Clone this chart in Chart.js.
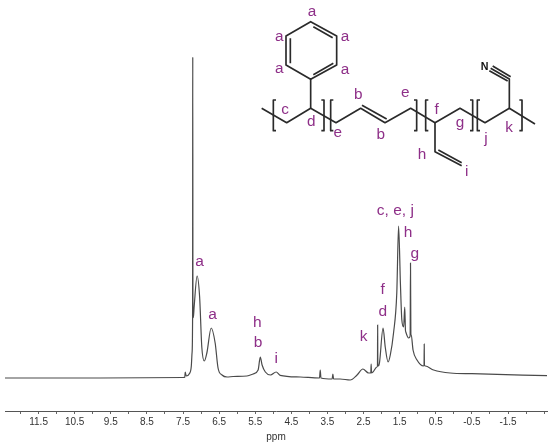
<!DOCTYPE html>
<html lang="en">
<head>
    <meta charset="UTF-8">
    <title>1H NMR spectrum</title>
    <script src="https://cdn.jsdelivr.net/npm/chart.js"></script>
    <style>
        html, body { margin: 0; padding: 0; background: #fff; }
        #wrap { position: relative; width: 550px; height: 444px; overflow: hidden; }
        #myChart { position: absolute; left: 0; top: 0; }
        #structure { position: absolute; left: 260px; top: 0; }
        #structure .bond { fill: none; stroke: #2a2a2a; stroke-width: 5; stroke-linejoin: round; }
        #structure text { font-family: "Liberation Sans", Arial, sans-serif; font-size: 46px; fill: #8e2f88; text-anchor: middle; dominant-baseline: central; }
        #structure text.atom { fill: #111; font-weight: bold; font-size: 32px; }
    </style>
</head>
<body>
<div id="wrap">
    <canvas id="myChart" width="550" height="444"></canvas>
    <svg id="structure" width="290" height="200" viewBox="0 0 870 600">
        <polygon class="bond" points="152,65 230,108 230,195 152,238 78,195 78,108"/>
        <path class="bond" d="M160,80 L218,113 M91,115 L91,190 M160,224 L220,190"/>
        <path class="bond" d="M152,238 L152,325"/>
        <polyline class="bond" points="5,325 80,368 152,325 228,368 302,325 375,368 452,325 525,368 600,325 675,368 748,325 825,372"/>
        <path class="bond" d="M306,316 L380,357"/>
        <path class="bond" d="M525,368 L525,455 L605,497 M535,450 L605,488"/>
        <path class="bond" d="M748,325 L748,237 L692,205 M752,230 L698,198 M743,243 L688,212"/>
        <path class="bond" d="M48,300 L40,300 L40,392 L48,392 M184,300 L192,300 L192,392 L184,392"/>
        <path class="bond" d="M220,300 L212,300 L212,392 L220,392 M462,300 L470,300 L470,392 L462,392"/>
        <path class="bond" d="M505,300 L497,300 L497,392 L505,392 M630,300 L638,300 L638,392 L630,392"/>
        <path class="bond" d="M660,300 L652,300 L652,392 L660,392 M778,300 L786,300 L786,392 L778,392"/>
        <text class="atom" x="674" y="197">N</text>
        <text x="156" y="30">a</text>
        <text x="58" y="106">a</text>
        <text x="255" y="106">a</text>
        <text x="58" y="201">a</text>
        <text x="255" y="204">a</text>
        <text x="75" y="326">c</text>
        <text x="154" y="360">d</text>
        <text x="233" y="395">e</text>
        <text x="295" y="280">b</text>
        <text x="362" y="401">b</text>
        <text x="436" y="275">e</text>
        <text x="530" y="325">f</text>
        <text x="600" y="365">g</text>
        <text x="486" y="461">h</text>
        <text x="620" y="510">i</text>
        <text x="678" y="413">j</text>
        <text x="747" y="378">k</text>
    </svg>
</div>

<script>
    // spectrum: shift in ppm, height above the baseline
    const ppmValues = [12.43, 9.79, 7.49, 7.45, 7.44, 7.41, 7.33, 7.27, 7.25, 7.235, 7.23, 7.225, 7.21, 7.19, 7.11, 7.04, 6.98, 6.91, 6.84, 6.72, 6.61, 6.53, 6.42, 6.28, 6.11, 5.73, 5.56, 5.42, 5.36, 5.31, 5.22, 5.08, 4.92, 4.81, 4.25, 3.72, 3.70, 3.68, 3.37, 3.35, 3.33, 3.15, 2.87, 2.68, 2.52, 2.36, 2.30, 2.29, 2.28, 2.24, 2.13, 2.115, 2.11, 2.105, 2.09, 2.06, 1.96, 1.90, 1.82, 1.76, 1.67, 1.58, 1.53, 1.48, 1.44, 1.39, 1.36, 1.34, 1.33, 1.25, 1.21, 1.20, 1.19, 1.18, 1.13, 1.02, 0.84, 0.825, 0.82, 0.815, 0.79, 0.56, 0.10, -0.50, -2.58];
    const heightValues = [0, 0, 0.5, 1, 6, 2, 4, 12, 25, 60, 321, 60, 62, 72, 102, 81, 31, 17, 25, 50, 35, 10, 3, 1, 1.5, 2, 4, 8, 21, 13, 6, 3, 6, 2.7, 1, 0, 8, 0, -1, 4, -1, -1, -2, 3, 9, 5, 5, 14, 5, 6, 11, 12, 53, 14, 12, 15, 50, 31, 16, 23, 45, 85, 152, 95, 58, 51, 71, 48, 46, 40, 42, 115, 44, 43, 28, 18, 12, 13, 34, 13, 12, 8, 5, 4.3, 2.3];

    const tickPositions = [12, 11.5, 11, 10.5, 10, 9.5, 9, 8.5, 8, 7.5, 7, 6.5, 6, 5.5, 5, 4.5, 4, 3.5, 3, 2.5, 2, 1.5, 1, 0.5, 0, -0.5, -1, -1.5, -2, -2.5];
    const tickLabels = ['11.5', '10.5', '9.5', '8.5', '7.5', '6.5', '5.5', '4.5', '3.5', '2.5', '1.5', '0.5', '-0.5', '-1.5'];

    const peakNames = ['a', 'a', 'h', 'b', 'i', 'k', 'd', 'f', 'c, e, j', 'h', 'g'];
    const peakPpm = [7.04, 6.68, 5.44, 5.42, 4.92, 2.50, 1.97, 1.97, 1.62, 1.27, 1.08];
    const peakHeights = [116, 63, 55, 35, 19, 41, 66, 88, 167, 145, 124];

    const peakLabelPlugin = {
        id: 'peakLabels',
        afterDatasetsDraw(chart) {
            const ctx = chart.ctx;
            ctx.save();
            ctx.fillStyle = '#8e2f88';
            ctx.font = '15.5px "Liberation Sans", Arial, sans-serif';
            ctx.textAlign = 'center';
            ctx.textBaseline = 'middle';
            peakNames.forEach(function(name, i) {
                ctx.fillText(name, chart.scales.x.getPixelForValue(peakPpm[i]), chart.scales.y.getPixelForValue(peakHeights[i]));
            });
            ctx.restore();
        }
    };

    new Chart(document.getElementById('myChart').getContext('2d'), {
        type: 'line',
        data: {
            datasets: [{
                data: ppmValues.map(function(p, i) { return { x: p, y: heightValues[i] }; }),
                borderColor: '#4a4a4a',
                borderWidth: 1.2,
                pointRadius: 0,
                cubicInterpolationMode: 'monotone'
            }]
        },
        options: {
            responsive: false,
            animation: false,
            layout: { padding: { left: 5, right: 3, top: 57, bottom: 1 } },
            plugins: { legend: { display: false }, tooltip: { enabled: false } },
            scales: {
                x: {
                    type: 'linear',
                    reverse: true,
                    min: -2.58,
                    max: 12.43,
                    afterBuildTicks: function(scale) {
                        scale.ticks = tickPositions.map(function(v) { return { value: v }; });
                    },
                    grid: { drawOnChartArea: false, drawTicks: true, tickLength: 3, color: '#666' },
                    border: { display: true, color: '#555', width: 1 },
                    ticks: {
                        autoSkip: false,
                        maxRotation: 0,
                        padding: 2,
                        color: '#333',
                        font: { family: '"Liberation Sans", Arial, sans-serif', size: 10 },
                        callback: function(value) {
                            const s = value.toFixed(1);
                            return tickLabels.includes(s) ? s : '';
                        }
                    },
                    title: {
                        display: true,
                        text: 'ppm',
                        color: '#333',
                        padding: { top: 1, bottom: 0 },
                        font: { family: '"Liberation Sans", Arial, sans-serif', size: 10 }
                    }
                },
                y: {
                    display: false,
                    min: -33,
                    max: 321
                }
            }
        },
        plugins: [peakLabelPlugin]
    });
</script>
</body>
</html>
